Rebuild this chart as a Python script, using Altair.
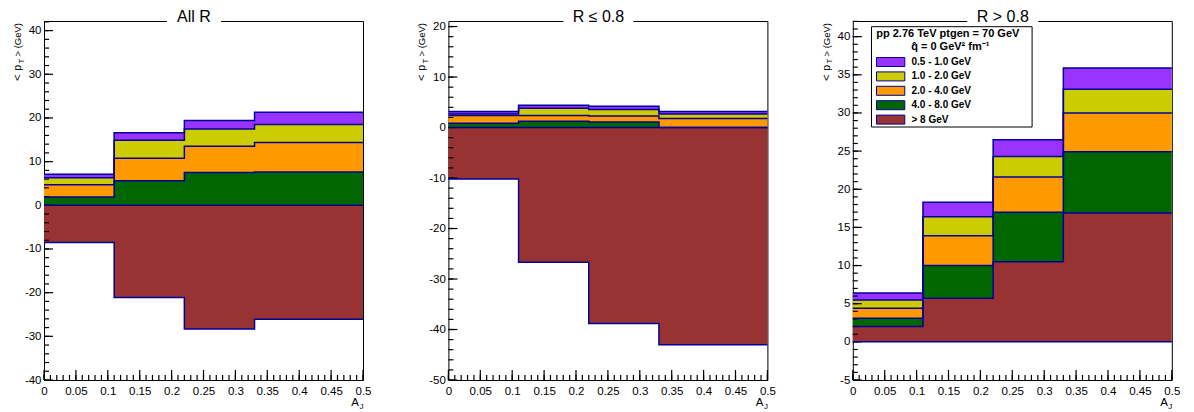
import altair as alt
import pandas as pd

FONT = "Liberation Sans"
NAVY = "#000099"

# bin edges in A_J
EDGES = [0.0, 0.11, 0.22, 0.33, 0.5]

# legend order (top of stack first)
SERIES = ["0.5 - 1.0 GeV", "1.0 - 2.0 GeV", "2.0 - 4.0 GeV", "4.0 - 8.0 GeV", "> 8 GeV"]
COLORS = ["#9933FF", "#CCCC00", "#FF9900", "#006600", "#993333"]
STACK_ORDER = ["> 8 GeV", "4.0 - 8.0 GeV", "2.0 - 4.0 GeV", "1.0 - 2.0 GeV", "0.5 - 1.0 GeV"]
LEGEND_HEAD1 = "pp 2.76 TeV ptgen = 70 GeV"
LEGEND_HEAD2 = "q\u0302 = 0 GeV\u00b2 fm\u207b\u00b9"

# panel "All R": per-bin contribution of each track-pT class
ALLR_GT8 = [-8.5, -21.1, -28.3, -26.1]
ALLR_4_8 = [1.9, 5.6, 7.5, 7.6]
ALLR_2_4 = [2.8, 5.2, 6.0, 6.8]
ALLR_1_2 = [1.6, 4.1, 4.0, 4.1]
ALLR_05_1 = [0.8, 1.7, 1.9, 2.8]

# panel "R <= 0.8"
IN_GT8 = [-10.2, -26.7, -38.8, -43.0]
IN_4_8 = [0.85, 1.25, 1.1, 0.0]
IN_2_4 = [1.55, 1.15, 1.2, 1.8]
IN_1_2 = [0.3, 1.4, 1.25, 0.9]
IN_05_1 = [0.5, 0.6, 0.65, 0.5]

# panel "R > 0.8"
OUT_GT8 = [2.0, 5.7, 10.5, 16.9]
OUT_4_8 = [1.1, 4.3, 6.5, 8.0]
OUT_2_4 = [1.3, 3.9, 4.6, 5.1]
OUT_1_2 = [1.1, 2.5, 2.7, 3.1]
OUT_05_1 = [0.9, 1.9, 2.2, 2.8]

# tick labels / tick positions
X_MAJOR = [0, 0.05, 0.1, 0.15, 0.2, 0.25, 0.3, 0.35, 0.4, 0.45, 0.5]
X_MINOR = [round(i * 0.01, 2) for i in range(51)]
Y1_MAJOR = [-40, -30, -20, -10, 0, 10, 20, 30, 40]
Y1_MINOR = list(range(-40, 43, 2))
Y2_MAJOR = [-50, -40, -30, -20, -10, 0, 10, 20]
Y2_MINOR = list(range(-50, 22, 2))
Y3_MAJOR = [-5, 0, 5, 10, 15, 20, 25, 30, 35, 40]
Y3_MINOR = list(range(-5, 43, 1))

W = 319
H = 359
XT_MAJ, XT_MIN = 10, 5
YT_MAJ, YT_MIN = 9, 5


def build_tables(vals):
    lo = {s: [] for s in STACK_ORDER}
    hi = {s: [] for s in STACK_ORDER}
    for b in range(4):
        pos = neg = 0.0
        for s in STACK_ORDER:
            v = vals[s][b]
            if v >= 0:
                y0, y1 = pos, pos + v
                pos = y1
            else:
                y0, y1 = neg, neg + v
                neg = y1
            lo[s].append(y0)
            hi[s].append(y1)
    rows = []
    for s in STACK_ORDER:
        for b in range(5):
            k = min(b, 3)
            rows.append(dict(x=EDGES[b], y0=lo[s][k], y1=hi[s][k], series=s))
    return pd.DataFrame(rows)


def tick_table(ymaj, ymin, ydom):
    # inward tick segments: each tick is a 2-point line starting on the frame
    xspan = 0.5
    yspan = ydom[1] - ydom[0]
    rows = []
    for name, vals, ln in (("ya", ymaj, YT_MAJ), ("yi", ymin, YT_MIN)):
        for i, v in enumerate(vals):
            rows.append(dict(tid=f"{name}{i}", x=0.0, y=v, o=0))
            rows.append(dict(tid=f"{name}{i}", x=ln / W * xspan, y=v, o=1))
    for name, vals, ln in (("xa", X_MAJOR, XT_MAJ), ("xi", X_MINOR, XT_MIN)):
        for i, v in enumerate(vals):
            rows.append(dict(tid=f"{name}{i}", x=v, y=ydom[0], o=0))
            rows.append(dict(tid=f"{name}{i}", x=v, y=ydom[0] + ln / H * yspan, o=1))
    return pd.DataFrame(rows)


def txt(t, x, y, size, align="center", angle=0, weight="normal", baseline="alphabetic"):
    return alt.Chart(pd.DataFrame({"t": [t]})).mark_text(
        align=align, baseline=baseline, angle=angle, fontSize=size,
        font=FONT, fontWeight=weight, color="black"
    ).encode(text="t:N", x=alt.value(x), y=alt.value(y))


def legend_layers(color_scale):
    ldf = pd.DataFrame({"series": SERIES})
    box = alt.Chart(pd.DataFrame({"a": [0]})).mark_rect(
        fill="white", stroke="black", strokeWidth=1).encode(
        x=alt.value(18.7), x2=alt.value(179.3), y=alt.value(5.7), y2=alt.value(106))
    sw = alt.Chart(ldf).mark_rect(stroke=NAVY, strokeWidth=1).encode(
        x=alt.value(23.7), x2=alt.value(52),
        y=alt.Y("series:N", axis=None, scale=alt.Scale(
            type="band", domain=SERIES, range=[33.8, 105.8],
            paddingInner=0.375, paddingOuter=0.1875)),
        color=alt.Color("series:N", scale=color_scale, legend=None))
    lab = alt.Chart(ldf).mark_text(
        align="left", baseline="middle", fontSize=10, fontWeight="bold",
        font=FONT, color="black").encode(
        x=alt.value(58.7),
        y=alt.Y("series:N", axis=None, scale=alt.Scale(
            type="point", domain=SERIES, range=[41, 98.6], padding=0)),
        text="series:N")
    return [
        box, sw, lab,
        txt(LEGEND_HEAD1, 95, 15.7, 11, weight="bold"),
        txt(LEGEND_HEAD2, 97.5, 28.7, 11, weight="bold"),
    ]


def panel(vals, ydom, ymaj, ymin, title, box_w, legend):
    df = build_tables(vals)
    tdf = tick_table(ymaj, ymin, ydom)
    xs = alt.Scale(domain=[0, 0.5], nice=False, zero=False)
    ys = alt.Scale(domain=ydom, nice=False, zero=False)
    cscale = alt.Scale(domain=SERIES, range=COLORS)

    ticks = alt.Chart(tdf).mark_line(color="black", strokeWidth=1.2).encode(
        x=alt.X("x:Q", scale=xs, axis=None),
        y=alt.Y("y:Q", scale=ys, axis=None),
        detail="tid:N",
        order="o:Q",
    )

    fills = alt.Chart(df).mark_area(interpolate="step-after", strokeWidth=0, opacity=1).encode(
        x=alt.X("x:Q", scale=xs, axis=alt.Axis(
            values=X_MAJOR, labelExpr="'' + datum.value", ticks=False, tickSize=0,
            domain=False, grid=False, labelPadding=5, labelFontSize=11.5, labelFont=FONT,
            labelColor="black", labelFlush=False, labelOverlap=False, title=None)),
        y=alt.Y("y1:Q", scale=ys, stack=None, axis=alt.Axis(
            values=ymaj, labelExpr="'' + datum.value", ticks=False, tickSize=0,
            domain=False, grid=False, labelPadding=3, labelFontSize=11.5, labelFont=FONT,
            labelColor="black", labelFlush=False, labelOverlap=False, title=None)),
        y2="y0:Q",
        color=alt.Color("series:N", scale=cscale, legend=None),
    )

    base = alt.Chart(pd.DataFrame({"x0": [EDGES[0]], "x1": [EDGES[-1]], "y": [0.0]})).mark_rule(
        color=NAVY, strokeWidth=1.5
    ).encode(
        x=alt.X("x0:Q", scale=xs, axis=None), x2="x1:Q",
        y=alt.Y("y:Q", scale=ys, axis=None),
    )

    lines = alt.Chart(df).mark_line(
        interpolate="step-after", color=NAVY, strokeWidth=1.5
    ).encode(
        x=alt.X("x:Q", scale=xs, axis=None),
        y=alt.Y("y1:Q", scale=ys, axis=None),
        detail="series:N",
    )

    cx = 150
    box = alt.Chart(pd.DataFrame({"a": [0]})).mark_rect(color="white").encode(
        x=alt.value(cx - box_w / 2), x2=alt.value(cx + box_w / 2),
        y=alt.value(-8), y2=alt.value(1.5))

    layers = [
        fills, ticks, base, lines, box,
        txt(title, cx, 1, 16),
        txt("<", -23.3, 60, 11, align="left", angle=270),
        txt("p", -23.3, 49.8, 10.5, align="left", angle=270),
        txt("T", -20.5, 42.5, 7.5, align="left", angle=270),
        txt("> (GeV)", -23.3, 35.5, 9.5, align="left", angle=270),
        txt("A", 315, 385, 11.5, align="right"),
        txt("J", 315.5, 387.5, 8, align="left"),
    ]
    if legend:
        layers += legend_layers(cscale)
    return alt.layer(*layers).resolve_scale(x="independent", y="independent").properties(
        width=W, height=H)


def vals_of(gt8, a48, a24, a12, a051):
    return {"> 8 GeV": gt8, "4.0 - 8.0 GeV": a48, "2.0 - 4.0 GeV": a24,
            "1.0 - 2.0 GeV": a12, "0.5 - 1.0 GeV": a051}


p1 = panel(vals_of(ALLR_GT8, ALLR_4_8, ALLR_2_4, ALLR_1_2, ALLR_05_1),
           [-40, 42.2], Y1_MAJOR, Y1_MINOR, "All R", 54, False)
p2 = panel(vals_of(IN_GT8, IN_4_8, IN_2_4, IN_1_2, IN_05_1),
           [-50, 21.1], Y2_MAJOR, Y2_MINOR, "R \u2264 0.8", 70, False)
p3 = panel(vals_of(OUT_GT8, OUT_4_8, OUT_2_4, OUT_1_2, OUT_05_1),
           [-5, 42.05], Y3_MAJOR, Y3_MINOR, "R > 0.8", 71, True)

chart = alt.hconcat(p1, p2, p3, spacing=85.4, bounds="flush").resolve_scale(
    color="independent"
).configure_view(stroke="black", strokeWidth=1).configure_axis(grid=False).properties(
    padding={"left": 3, "top": 0, "right": 4, "bottom": 0}, background="white"
)

chart.save("out.html", embed_options={"renderer": "svg", "actions": False})
